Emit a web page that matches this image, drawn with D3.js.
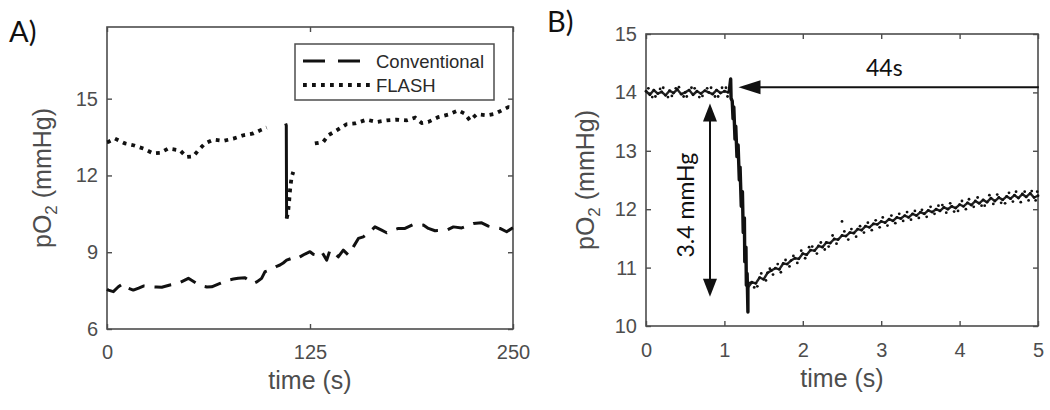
<!DOCTYPE html>
<html>
<head>
<meta charset="utf-8">
<script src="https://cdn.jsdelivr.net/npm/d3@7/dist/d3.min.js"></script>
<style>
  html, body { margin: 0; padding: 0; background: #fff; }
  svg { display: block; }
</style>
</head>
<body>
<svg id="chart" width="1050" height="410"></svg>
<script>
// ---------------- DATA ----------------
// Panel A: pO2 (mmHg) vs time (s)
const aXTicks = [0, 125, 250];
const aYTicks = [6, 9, 12, 15];
const conventional = [
  [0, 7.55], [0.8, 7.52], [3.9, 7.46], [7, 7.65], [10, 7.78], [13, 7.6], [16.2, 7.52], [19.5, 7.6],
  [22.4, 7.68], [27.5, 7.65], [30.5, 7.64], [33.7, 7.63], [38.8, 7.72], [43.9, 7.78], [47, 7.88],
  [50.1, 7.98], [55.2, 7.78], [58.3, 7.68], [61.5, 7.64], [64.5, 7.65], [69.6, 7.78], [74.7, 7.91],
  [77.8, 7.95], [80.8, 7.98], [85, 8.0], [90.1, 7.78], [92.5, 7.85], [95.2, 7.98], [97.3, 8.24],
  [100, 8.3], [102.4, 8.37], [104.5, 8.45], [106.5, 8.5], [108.5, 8.58], [110.6, 8.69], [113.7, 8.76],
  [116, 8.72], [118.8, 8.82], [121.9, 8.93], [125, 9.02], [127, 8.92], [129.1, 8.89], [132.2, 9.02],
  [135.3, 8.69], [137.3, 9.08], [140.4, 8.95], [142.4, 8.82], [145.5, 9.08], [148.6, 8.89],
  [151.7, 9.21], [154.8, 9.54], [157.8, 9.6], [161.9, 9.8], [165, 9.99], [169.1, 9.86], [172.2, 9.76],
  [175.5, 9.85], [179.4, 9.93], [183.5, 9.93], [188.6, 10.08], [191.5, 10.05], [194.8, 10.06],
  [197.9, 9.93], [202, 9.84], [205.5, 9.85], [209.2, 9.86], [213.3, 9.99], [218.4, 9.95], [222, 10.03],
  [225.6, 10.12], [230.7, 10.15], [234.8, 10.02], [238.5, 9.97], [242, 9.93], [246.1, 9.8],
  [249.2, 9.93], [250, 9.95]
];
const flashPre = [
  [0, 13.3], [0.8, 13.31], [4.9, 13.44], [11.1, 13.25], [16.2, 13.18], [22.4, 13.05], [28.5, 12.86],
  [32.6, 12.88], [37.7, 13.05], [45, 12.98], [49, 12.72], [53.2, 12.75], [56.2, 12.98], [60.3, 13.25],
  [65.5, 13.4], [71.6, 13.35], [77.8, 13.44], [83.9, 13.57], [90.1, 13.64], [95.2, 13.79], [98.3, 13.87]
];
const flashDrop = [[110.0, 14.03], [110.4, 13.95], [110.6, 10.32]];
const flashRecover = [
  [110.6, 10.32], [111.1, 10.45], [111.6, 10.64], [112.2, 11.03], [112.7, 11.42], [113.3, 11.75],
  [113.7, 11.94], [114.7, 12.14]
];
const flashPost = [
  [128, 13.25], [133.2, 13.31], [136.3, 13.57], [141.4, 13.76], [147.5, 14.0], [152.7, 14.03],
  [159.9, 14.18], [166, 14.09], [172.2, 14.15], [178.3, 14.18], [184.5, 14.15], [189.7, 14.26],
  [193.8, 14.05], [197.8, 14.09], [204, 14.28], [210.2, 14.38], [216.3, 14.54], [220.4, 14.41],
  [223.5, 14.15], [227.6, 14.39], [233.8, 14.35], [238.9, 14.41], [243, 14.54], [247.1, 14.67],
  [250, 14.65]
];
const legendLabels = ["Conventional", "FLASH"];

// Panel B: pO2 (mmHg) vs time (s), single FLASH pulse
const bXTicks = [0, 1, 2, 3, 4, 5];
const bYTicks = [10, 11, 12, 13, 14, 15];
const bBaseline = [
  [0.00, 14.02], [0.05, 13.96], [0.10, 14.04], [0.15, 13.98], [0.20, 14.01], [0.25, 13.95],
  [0.30, 14.03], [0.35, 13.99], [0.40, 14.05], [0.45, 13.97], [0.50, 14.00], [0.55, 14.04],
  [0.60, 13.96], [0.65, 14.02], [0.70, 13.98], [0.75, 14.03], [0.80, 14.00], [0.85, 13.97],
  [0.90, 14.04], [0.95, 13.99], [1.00, 14.02], [1.05, 14.00]
];
const bBaselineScatter = [
  [0.03, 14.07], [0.08, 13.92], [0.12, 13.93], [0.18, 14.06], [0.22, 14.08], [0.28, 13.92],
  [0.33, 13.94], [0.38, 14.07], [0.42, 14.09], [0.48, 13.93], [0.52, 13.93], [0.58, 14.08],
  [0.62, 14.07], [0.68, 13.92], [0.72, 13.94], [0.78, 14.07], [0.83, 14.08], [0.88, 13.93],
  [0.92, 13.93], [0.97, 14.08], [1.02, 14.08], [1.04, 13.93]
];
const bDrop = [
  [1.06, 14.00], [1.08, 14.23], [1.085, 13.90], [1.10, 13.85], [1.11, 13.55], [1.12, 13.75],
  [1.135, 13.20], [1.145, 13.42], [1.16, 12.90], [1.175, 13.10], [1.19, 12.50], [1.20, 12.72],
  [1.215, 12.05], [1.23, 12.30], [1.24, 11.60], [1.255, 11.85], [1.26, 11.10], [1.275, 11.35],
  [1.28, 10.70], [1.29, 10.90], [1.30, 10.24], [1.30, 10.66]
];
const bRecovery = [
  [1.30, 10.66], [1.35, 10.75], [1.40, 10.73], [1.45, 10.83], [1.50, 10.80], [1.55, 10.91],
  [1.60, 10.95], [1.65, 10.99], [1.70, 10.97], [1.75, 11.07], [1.80, 11.06], [1.85, 11.12],
  [1.90, 11.16], [1.95, 11.15], [2.00, 11.24], [2.05, 11.22], [2.10, 11.30], [2.15, 11.29],
  [2.20, 11.37], [2.25, 11.35], [2.30, 11.43], [2.35, 11.42], [2.40, 11.49], [2.45, 11.48],
  [2.50, 11.55], [2.55, 11.54], [2.60, 11.60], [2.65, 11.59], [2.70, 11.66], [2.75, 11.64],
  [2.80, 11.71], [2.85, 11.69], [2.90, 11.75], [2.95, 11.74], [3.00, 11.79], [3.05, 11.77],
  [3.10, 11.83], [3.15, 11.80], [3.20, 11.86], [3.25, 11.84], [3.30, 11.89], [3.35, 11.86],
  [3.40, 11.92], [3.45, 11.89], [3.50, 11.95], [3.55, 11.92], [3.60, 11.98], [3.65, 11.95],
  [3.70, 12.00], [3.75, 11.97], [3.80, 12.03], [3.85, 12.00], [3.90, 12.05], [3.95, 12.02],
  [4.00, 12.08], [4.05, 12.05], [4.10, 12.11], [4.15, 12.07], [4.20, 12.14], [4.25, 12.10],
  [4.30, 12.16], [4.35, 12.12], [4.40, 12.19], [4.45, 12.14], [4.50, 12.20], [4.55, 12.16],
  [4.60, 12.22], [4.65, 12.18], [4.70, 12.24], [4.75, 12.19], [4.80, 12.26], [4.85, 12.21],
  [4.90, 12.27], [4.95, 12.20], [5.00, 12.23]
];
const bRecoveryScatter = [
  [1.33, 10.74], [1.38, 10.66], [1.42, 10.68], [1.47, 10.90], [1.53, 10.78], [1.58, 10.98],
  [1.62, 10.88], [1.68, 11.06], [1.72, 10.92], [1.78, 11.13], [1.83, 11.02], [1.88, 11.20],
  [1.93, 11.08], [1.98, 11.29], [2.03, 11.16], [2.08, 11.35], [2.12, 11.36], [2.18, 11.24],
  [2.23, 11.43], [2.28, 11.31], [2.33, 11.36], [2.38, 11.55], [2.43, 11.41], [2.50, 11.79],
  [2.53, 11.62], [2.58, 11.48], [2.62, 11.66], [2.68, 11.53], [2.73, 11.71], [2.78, 11.60],
  [2.83, 11.77], [2.88, 11.64], [2.93, 11.81], [2.98, 11.69], [3.02, 11.86], [3.08, 11.72],
  [3.13, 11.89], [3.18, 11.76], [3.23, 11.92], [3.28, 11.80], [3.33, 11.95], [3.38, 11.82],
  [3.43, 11.97], [3.48, 11.85], [3.52, 11.99], [3.58, 11.87], [3.63, 12.04], [3.68, 11.92],
  [3.73, 12.06], [3.78, 12.07], [3.83, 11.94], [3.88, 12.10], [3.93, 11.96], [3.98, 11.97],
  [4.03, 12.14], [4.08, 12.00], [4.12, 12.17], [4.18, 12.04], [4.23, 12.20], [4.28, 12.06],
  [4.32, 12.06], [4.38, 12.24], [4.43, 12.09], [4.48, 12.25], [4.53, 12.11], [4.58, 12.10],
  [4.63, 12.28], [4.68, 12.13], [4.72, 12.30], [4.78, 12.12], [4.83, 12.30], [4.88, 12.15],
  [4.92, 12.31], [4.97, 12.15], [4.99, 12.30]
];
// annotations (data units)
const delayArrow = { t0: 5.01, t1: 1.18, v: 14.09, label: "44s", labelT: 3.04 };
const dropArrow = { t: 0.816, v0: 13.81, v1: 10.50, label: "3.4 mmHg", labelT: 0.54, labelV: 12.07 };

// ---------------- DRAWING ----------------
const svg = d3.select("#chart");
const axisColor = "#4d4d4d";
const sansFont = "'Liberation Sans', Arial, sans-serif";
const annFont = "Lato, 'Open Sans', sans-serif";

function frame(x, y, xTicks, yTicks, xPad, yPad) {
  const [x0, x1] = x.range();
  const [y0, y1] = y.range(); // y0 bottom, y1 top
  const g = svg.append("g");
  const fmt = d3.format("d");
  const style = sel => {
    sel.attr("color", axisColor).attr("font-size", 20).attr("font-family", sansFont);
    sel.select(".domain").remove();
    sel.selectAll(".tick line").attr("stroke-width", 1.4);
    sel.selectAll(".tick text").attr("fill", axisColor);
  };
  g.append("g").attr("transform", `translate(0,${y0})`)
    .call(d3.axisBottom(x).tickValues(xTicks).tickFormat(fmt).tickSizeInner(-5).tickSizeOuter(0).tickPadding(xPad)).call(style);
  g.append("g").attr("transform", `translate(0,${y1})`)
    .call(d3.axisTop(x).tickValues(xTicks).tickSizeInner(-5).tickSizeOuter(0).tickFormat("")).call(style);
  g.append("g").attr("transform", `translate(${x0},0)`)
    .call(d3.axisLeft(y).tickValues(yTicks).tickFormat(fmt).tickSizeInner(-5).tickSizeOuter(0).tickPadding(yPad)).call(style);
  g.append("g").attr("transform", `translate(${x1},0)`)
    .call(d3.axisRight(y).tickValues(yTicks).tickSizeInner(-5).tickSizeOuter(0).tickFormat("")).call(style);
  g.append("rect").attr("x", x0).attr("y", y1).attr("width", x1 - x0).attr("height", y0 - y1)
    .attr("fill", "none").attr("stroke", axisColor).attr("stroke-width", 1.6);
  return g;
}

function titles(x, y, xBase, yBase) {
  const [x0, x1] = x.range();
  const [y0, y1] = y.range();
  svg.append("text").attr("x", (x0 + x1) / 2).attr("y", xBase)
    .attr("text-anchor", "middle").attr("font-family", sansFont).attr("font-size", 25)
    .attr("fill", axisColor).text("time (s)");
  const t = svg.append("text")
    .attr("transform", `translate(${yBase},${(y0 + y1) / 2}) rotate(-90)`)
    .attr("text-anchor", "middle").attr("font-family", sansFont).attr("font-size", 25)
    .attr("fill", axisColor);
  t.append("tspan").text("pO");
  t.append("tspan").attr("font-size", 17).attr("dy", 6).text("2");
  t.append("tspan").attr("dy", -6).text(" (mmHg)");
}

// ----- Panel A -----
const xA = d3.scaleLinear().domain([0, 250]).range([107, 513]);
const yA = d3.scaleLinear().domain([6, 17.8]).range([329, 27]);
frame(xA, yA, aXTicks, aYTicks, 16, 9);
titles(xA, yA, 389, 51);

const lineA = d3.line().x(d => xA(d[0])).y(d => yA(d[1]));
const gA = svg.append("g");
gA.append("path").attr("d", lineA(conventional)).attr("fill", "none").attr("stroke", "#111")
  .attr("stroke-width", 3).attr("stroke-dasharray", "17,10").attr("stroke-linejoin", "round");
[flashPre, flashRecover, flashPost].forEach(seg => {
  gA.append("path").attr("d", lineA(seg)).attr("fill", "none").attr("stroke", "#111")
    .attr("stroke-width", 3.8).attr("stroke-dasharray", "3.8,5");
});
gA.append("path").attr("d", lineA(flashDrop)).attr("fill", "none").attr("stroke", "#111")
  .attr("stroke-width", 3);

// legend
const lg = svg.append("g");
lg.append("rect").attr("x", 295).attr("y", 44).attr("width", 199).attr("height", 56)
  .attr("fill", "#fff").attr("stroke", axisColor).attr("stroke-width", 1.5);
lg.append("line").attr("x1", 303).attr("x2", 360).attr("y1", 61).attr("y2", 61)
  .attr("stroke", "#111").attr("stroke-width", 3).attr("stroke-dasharray", "22,13");
lg.append("line").attr("x1", 303).attr("x2", 370).attr("y1", 85).attr("y2", 85)
  .attr("stroke", "#111").attr("stroke-width", 3.8).attr("stroke-dasharray", "3.8,5.2");
legendLabels.forEach((lab, i) => {
  lg.append("text").attr("x", 376).attr("y", 61 + i * 24 + 6.5)
    .attr("font-family", sansFont).attr("font-size", 18.5).attr("fill", "#2a2a2a").text(lab);
});

svg.append("text").attr("x", 9).attr("y", 42).attr("font-family", annFont).attr("font-size", 29)
  .attr("fill", "#111").text("A)");

// ----- Panel B -----
const xB = d3.scaleLinear().domain([0, 5]).range([646, 1038]);
const yB = d3.scaleLinear().domain([10, 15]).range([326, 34]);
frame(xB, yB, bXTicks, bYTicks, 17, 9);
titles(xB, yB, 387, 594);

const lineB = d3.line().x(d => xB(d[0])).y(d => yB(d[1]));
const gB = svg.append("g");
[bBaseline, bRecovery].forEach(seg => {
  gB.append("path").attr("d", lineB(seg)).attr("fill", "none").attr("stroke", "#222")
    .attr("stroke-width", 2.4).attr("stroke-linejoin", "round");
});
gB.append("path").attr("d", lineB(bDrop)).attr("fill", "none").attr("stroke", "#111")
  .attr("stroke-width", 3.4).attr("stroke-linejoin", "round");
gB.selectAll("circle.pt")
  .data([].concat(bBaseline, bBaselineScatter, bRecovery, bRecoveryScatter))
  .join("circle").attr("class", "pt")
  .attr("cx", d => xB(d[0])).attr("cy", d => yB(d[1])).attr("r", 1.4).attr("fill", "#111");

// annotations
const ann = svg.append("g").attr("fill", "#111").attr("stroke", "#111");
{
  const xs = xB(delayArrow.t0), xe = xB(delayArrow.t1), yy = yB(delayArrow.v);
  ann.append("line").attr("x1", xs).attr("x2", xe + 18).attr("y1", yy).attr("y2", yy).attr("stroke-width", 2);
  ann.append("path").attr("stroke", "none")
    .attr("d", `M${xe},${yy} L${xe + 22},${yy - 7} L${xe + 22},${yy + 7} Z`);
  ann.append("text").attr("x", xB(delayArrow.labelT)).attr("y", 76).attr("stroke", "none")
    .attr("text-anchor", "middle").attr("font-family", annFont).attr("font-size", 23).text(delayArrow.label);
}
{
  const xx = xB(dropArrow.t), ya = yB(dropArrow.v0), yb = yB(dropArrow.v1);
  ann.append("line").attr("x1", xx).attr("x2", xx).attr("y1", ya + 14).attr("y2", yb - 14).attr("stroke-width", 2);
  ann.append("path").attr("stroke", "none")
    .attr("d", `M${xx},${ya} L${xx - 7},${ya + 18} L${xx + 7},${ya + 18} Z`);
  ann.append("path").attr("stroke", "none")
    .attr("d", `M${xx},${yb} L${xx - 7},${yb - 18} L${xx + 7},${yb - 18} Z`);
  ann.append("text").attr("stroke", "none")
    .attr("transform", `translate(694,${yB(dropArrow.labelV)}) rotate(-90)`)
    .attr("text-anchor", "middle").attr("font-family", annFont).attr("font-size", 23).text(dropArrow.label);
}

svg.append("text").attr("x", 547).attr("y", 32).attr("font-family", annFont).attr("font-size", 29)
  .attr("fill", "#111").text("B)");
</script>
</body>
</html>
